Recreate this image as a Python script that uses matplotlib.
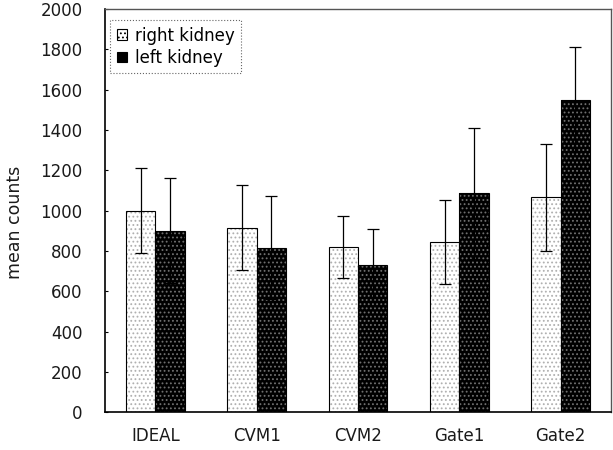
import numpy as np
import matplotlib.pyplot as plt
from matplotlib.patches import Patch

plt.rcParams['font.family'] = ['DejaVu Sans']
plt.rcParams['hatch.linewidth'] = 0.8

# data
methods = ['IDEAL', 'CVM1', 'CVM2', 'Gate1', 'Gate2']
right_mean = [1000, 915, 820, 845, 1065]
right_sd = [210, 210, 152, 210, 265]
left_mean = [900, 815, 730, 1085, 1550]
left_sd = [260, 255, 180, 325, 260]

fig = plt.figure(figsize=(6.13, 4.5), dpi=100)
ax = fig.add_axes([0.171, 0.084, 0.826, 0.896])

x = np.arange(len(methods))
w = 0.29

# right kidney: white with fine grey dots
ax.bar(x - w / 2, right_mean, w, color='white', edgecolor='#b0b0b0',
       hatch='....', linewidth=0)
ax.bar(x - w / 2, right_mean, w, fill=False, edgecolor='black', linewidth=0.8)
# left kidney: black with fine light dots
ax.bar(x + w / 2, left_mean, w, color='black', edgecolor='#707070',
       hatch='....', linewidth=0)
ax.bar(x + w / 2, left_mean, w, fill=False, edgecolor='black', linewidth=0.8)

ax.errorbar(x - w / 2, right_mean, yerr=right_sd, fmt='none', ecolor='black',
            elinewidth=0.9, capsize=4, capthick=0.9)
ax.errorbar(x + w / 2, left_mean, yerr=left_sd, fmt='none', ecolor='black',
            elinewidth=0.9, capsize=4, capthick=0.9)

ax.set_xlim(-0.5, len(methods) - 0.5)
ax.set_ylim(0, 2000)
ax.set_yticks(np.arange(0, 2001, 200))
ax.set_xticks(x)
ax.set_xticklabels(methods, fontsize=12, color='#1a1a1a')
ax.tick_params(axis='y', direction='in', length=2, labelsize=12, pad=16,
               labelcolor='#1a1a1a')
ax.tick_params(axis='x', length=0, pad=11)
ax.set_ylabel('mean counts', fontsize=12.5, color='#1a1a1a')
ax.yaxis.set_label_coords(-0.16, 0.47)

for s in ['left', 'bottom']:
    ax.spines[s].set_linewidth(1.2)
for s in ['top', 'right']:
    ax.spines[s].set_color('#555555')
    ax.spines[s].set_linewidth(1.0)

handles = [Patch(facecolor='white', edgecolor='black', hatch='....', linewidth=0.8),
           Patch(facecolor='black', edgecolor='black', linewidth=0.8)]
leg = ax.legend(handles, ['right kidney', 'left kidney'], loc='upper left',
                bbox_to_anchor=(0.011, 0.973), fontsize=12, handlelength=0.6,
                handleheight=0.6, handletextpad=0.45, borderpad=0.4,
                labelspacing=0.25, fancybox=False, framealpha=1,
                borderaxespad=0)
leg.get_frame().set_edgecolor('#666666')
leg.get_frame().set_linestyle(':')
leg.get_frame().set_linewidth(0.8)

fig.savefig('out.png', dpi=100)
